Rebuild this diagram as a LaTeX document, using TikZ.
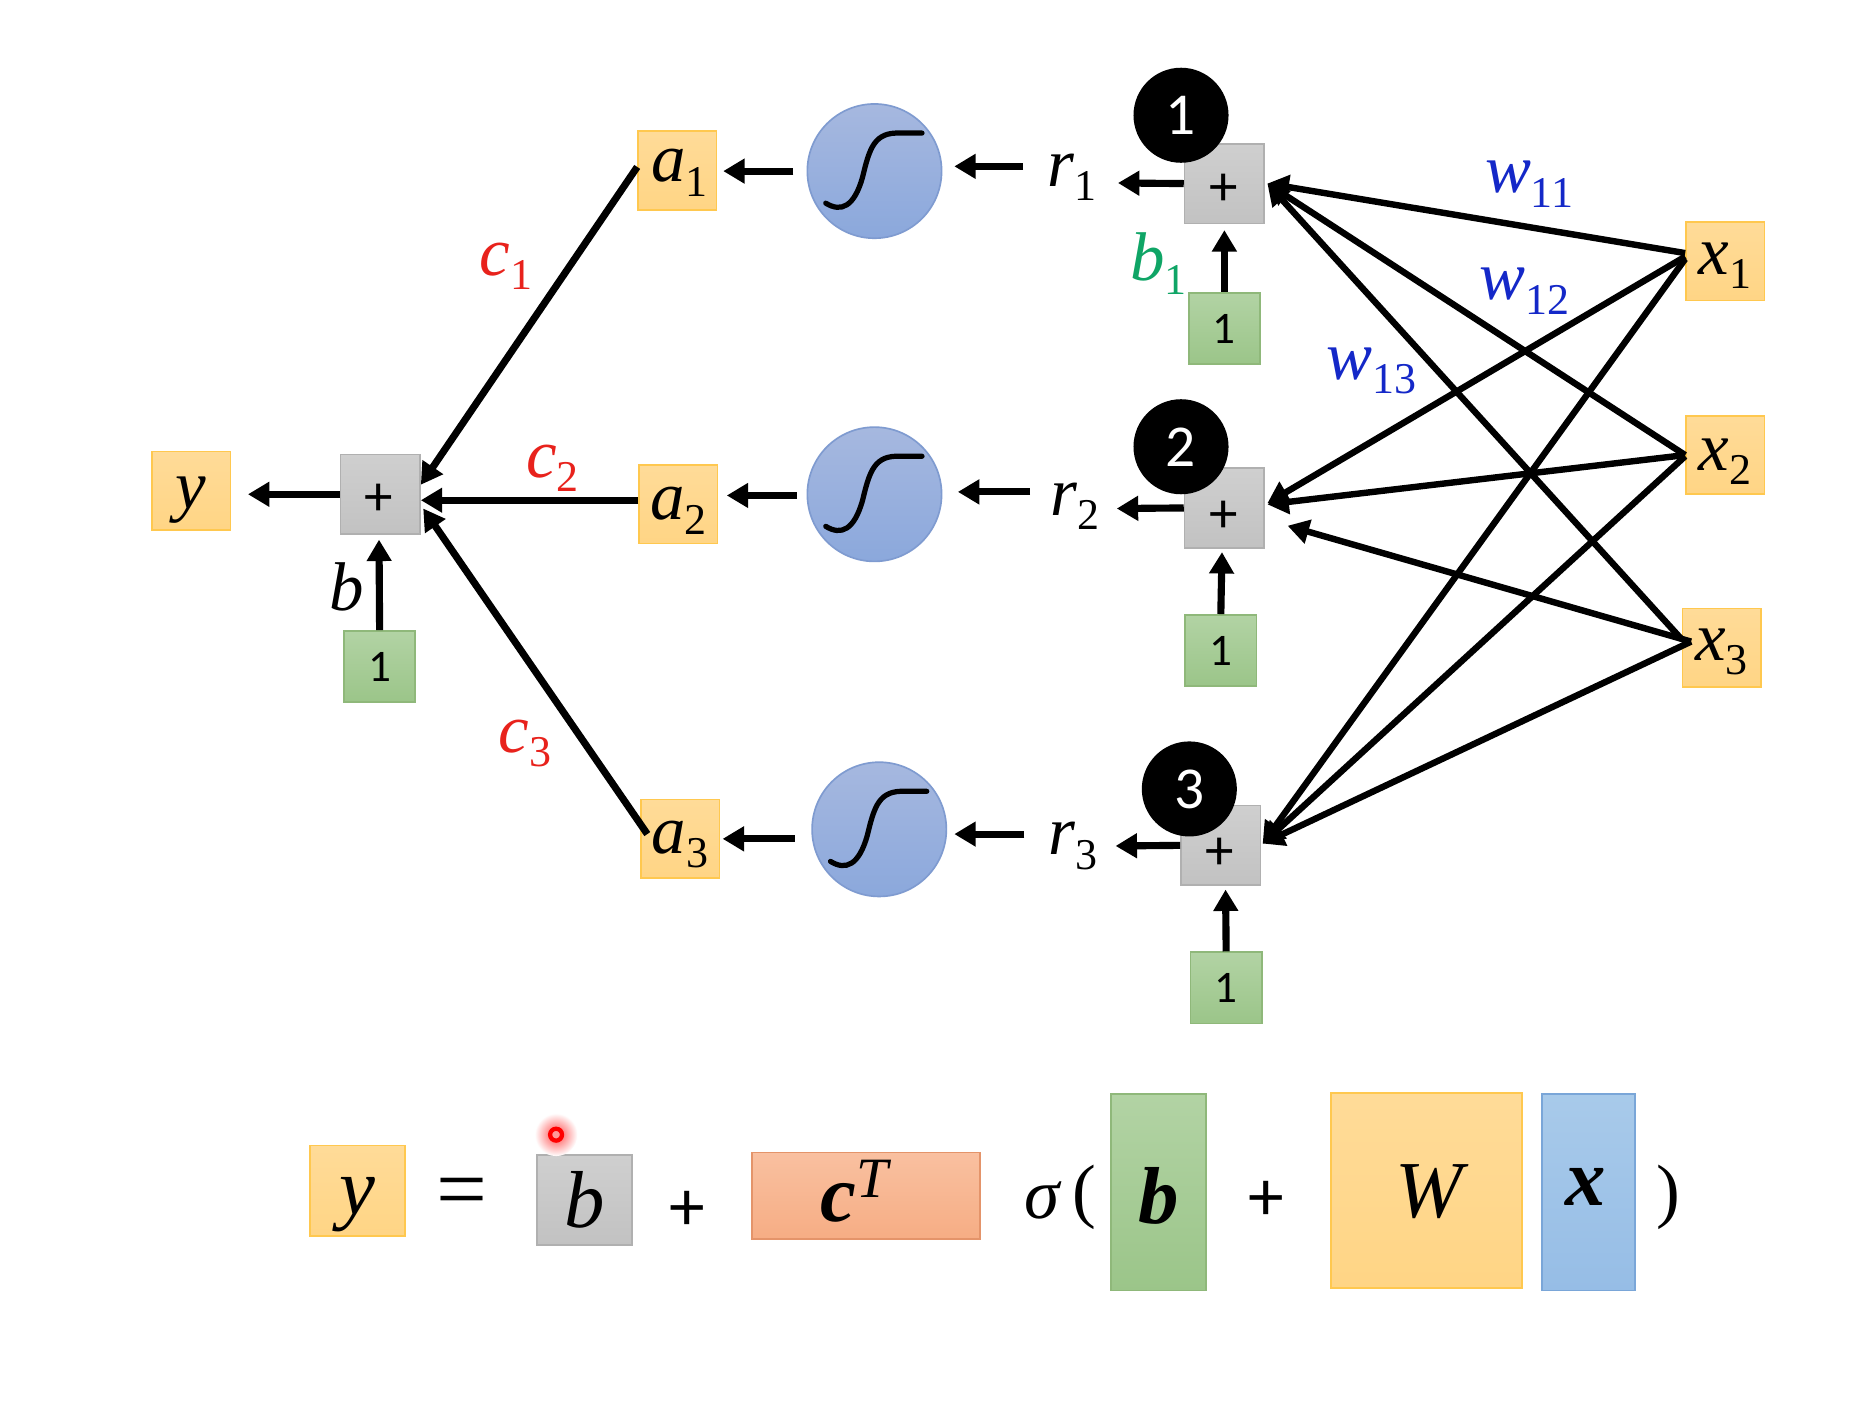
\documentclass[tikz,border=0pt]{standalone}
\usepackage{fontspec}
\setmainfont{Carlito}
\newfontfamily\mfont{Liberation Serif}
\usetikzlibrary{arrows.meta,shadings}
\definecolor{orTop}{HTML}{FFDB98}\definecolor{orBot}{HTML}{FFD585}\definecolor{orEdge}{HTML}{FFC84F}
\definecolor{grTop}{HTML}{CFCFCF}\definecolor{grBot}{HTML}{C2C2C2}\definecolor{grEdge}{HTML}{B0B0B0}
\definecolor{geTop}{HTML}{B2D3A4}\definecolor{geBot}{HTML}{9BC589}\definecolor{geEdge}{HTML}{8FB87A}
\definecolor{saTop}{HTML}{F9C0A0}\definecolor{saBot}{HTML}{F6AD84}\definecolor{saEdge}{HTML}{E4946A}
\definecolor{blTop}{HTML}{A8CAEA}\definecolor{blBot}{HTML}{96BDE6}\definecolor{blEdge}{HTML}{7AA6D8}
\definecolor{ciTop}{HTML}{A6B8DF}\definecolor{ciBot}{HTML}{8BA8DC}\definecolor{ciEdge}{HTML}{7F9BD0}
\definecolor{wBlue}{HTML}{1428C8}\definecolor{cRed}{HTML}{E8221C}\definecolor{bGreen}{HTML}{0FA566}
\newcommand\labsize{\fontsize{29}{32}\selectfont}
\newcommand\eqsize{\fontsize{34}{38}\selectfont}
% italic symbol with an upright lowered index
\newcommand\sym[2]{{\mfont\itshape #1}\raisebox{-6pt}{\mfont\fontsize{18.5}{20}\selectfont #2}}
\newcommand\var[1]{{\mfont\itshape #1}}
\newcommand\bvar[1]{{\mfont\bfseries\itshape #1}}
% sets a label's baseline relative to the centre of its box, without resizing the box
\newcommand\nudge[3]{\hspace*{#1}\smash{\raisebox{#2}{#3}}\hspace*{-#1}}
% S-shaped curve drawn over a sigmoid unit
\newcommand\sigcurve[1]{\draw[sline] ([shift={(-41,27)}]#1.center) .. controls ([shift={(-28,35)}]#1.center) and ([shift={(-17,30)}]#1.center) .. ([shift={(-10,5)}]#1.center) .. controls ([shift={(-4,-20)}]#1.center) and ([shift={(0,-33)}]#1.center) .. ([shift={(22,-32)}]#1.center) -- ([shift={(40,-32)}]#1.center);}
\tikzset{
  x=0.5pt,y=-0.5pt,
  sbox/.style={draw,line width=0.7pt,inner sep=0pt,shading angle=0,align=center},
  obox/.style={sbox,draw=orEdge,top color=orTop,bottom color=orBot,minimum width=33pt,minimum height=33pt,font=\labsize},
  gbox/.style={sbox,draw=grEdge,top color=grTop,bottom color=grBot,minimum width=33.5pt,minimum height=33.5pt,font=\fontsize{24}{26}\selectfont},
  onebox/.style={sbox,draw=geEdge,top color=geTop,bottom color=geBot,minimum width=30pt,minimum height=30pt,font=\fontsize{19}{22}\selectfont},
  unit/.style={circle,draw=ciEdge,line width=0.7pt,top color=ciTop,bottom color=ciBot,minimum size=56.5pt,inner sep=0pt},
  badge/.style={circle,fill=black,text=white,minimum size=40pt,inner sep=0pt,font=\fontsize{25}{28}\selectfont},
  txt/.style={inner sep=0pt,font=\labsize},
  eqtxt/.style={inner sep=0pt,font=\eqsize},
  arr/.style={-{Triangle[length=9pt,width=10pt]},line width=3pt,black},
  wire/.style={-{Triangle[length=9pt,width=10pt]},line width=2.7pt,black},
  sline/.style={line width=2.2pt,line cap=round,black},
}
\begin{document}
\begin{tikzpicture}
\useasboundingbox (0,0) rectangle (1568,1199);
\fill[white] (0,0) rectangle (1568,1199);

% output stage
\node[obox] (y) at (161,413) {\nudge{0pt}{-7.5pt}{\var{y}}};
\node[gbox] (sum) at (320,416) {\nudge{-0.5pt}{-9pt}{+}};
\node[onebox] (bias) at (319.5,561) {1};
\node[txt] (blab) at (292,494) {\var{b}};

% activations
\node[obox] (a1) at (570,143.5) {\nudge{1pt}{-4.75pt}{\sym{a}{1}}};
\node[obox] (a2) at (571,424.5) {\nudge{0pt}{-6.5pt}{\sym{a}{2}}};
\node[obox] (a3) at (572.5,706) {\nudge{0pt}{-6pt}{\sym{a}{3}}};
\node[unit] (s1) at (736,144) {};
\node[unit] (s2) at (736,416) {};
\node[unit] (s3) at (740,698) {};
\sigcurve{s1}\sigcurve{s2}\sigcurve{s3}
\node[txt] (r1) at (902,149) {\sym{r}{1}};
\node[txt] (r2) at (905,426) {\sym{r}{2}};
\node[txt] (r3) at (903,712) {\sym{r}{3}};

% hidden sums with their bias inputs
\node[gbox] (p1) at (1030.5,154.5) {\nudge{-0.5pt}{-9.25pt}{+}};
\node[gbox] (p2) at (1030.5,427.5) {\nudge{-0.5pt}{-10.25pt}{+}};
\node[gbox] (p3) at (1027.5,711.5) {\nudge{-0.5pt}{-10.25pt}{+}};
\node[badge] (n1) at (994,97) {1};
\node[badge] (n2) at (994,376) {2};
\node[badge] (n3) at (1001,664) {3};
\node[onebox] (g1) at (1030.5,276.5) {1};
\node[onebox] (g2) at (1027.5,547.5) {1};
\node[onebox] (g3) at (1032,831.5) {1};
\node[txt,text=bGreen] (b1) at (975,222) {\sym{b}{1}};

% inputs
\node[obox] (x1) at (1452,220) {\nudge{0pt}{-5.5pt}{\sym{x}{1}}};
\node[obox] (x2) at (1452,383) {\nudge{0pt}{-6.5pt}{\sym{x}{2}}};
\node[obox] (x3) at (1449,545) {\nudge{0pt}{-5.5pt}{\sym{x}{3}}};

% edge labels
\node[txt,text=cRed] (c1) at (426,224) {\sym{c}{1}};
\node[txt,text=cRed] (c2) at (465,394) {\sym{c}{2}};
\node[txt,text=cRed] (c3) at (442,626) {\sym{c}{3}};
\node[txt,text=wBlue] (w11) at (1287,155) {\sym{w}{11}};
\node[txt,text=wBlue] (w12) at (1283,245) {\sym{w}{12}};
\node[txt,text=wBlue] (w13) at (1154,312) {\sym{w}{13}};

% connectors of the output stage
\draw[arr] (sum.west) -- ([shift={(14,3)}]y.east);
\draw[arr] (bias.north) -- ([shift={(-1,4)}]sum.south);
\draw[arr] ([shift={(0,-3)}]a1.west) -- ([shift={(0,-8)}]sum.east);
\draw[arr] ([shift={(0,-3.5)}]a2.west) -- ([shift={(0,5)}]sum.east);
\draw[arr] ([shift={(6,-4)}]a3.west) -- ([shift={(2,12)}]sum.east);
\draw[arr] ([shift={(-11,0)}]s1.west) -- ([shift={(5,0.5)}]a1.east);
\draw[arr] ([shift={(-8,1)}]s2.west) -- ([shift={(7,-7.5)}]a2.east);
\draw[arr] ([shift={(-14,8)}]s3.west) -- ([shift={(2,0)}]a3.east);
\draw[arr] ([shift={(-20,-9)}]r1.west) -- ([shift={(10,-4)}]s1.east);
\draw[arr] ([shift={(-17,-12)}]r2.west) -- ([shift={(13,-2)}]s2.east);
\draw[arr] ([shift={(-20,-10)}]r3.west) -- ([shift={(6,4)}]s3.east);

% connectors from the hidden sums to their outputs
\draw[arr] (p1.west) -- ([shift={(18,5)}]r1.east);
\draw[arr] (p2.west) -- ([shift={(14,2)}]r2.east);
\draw[arr] (p3.west) -- ([shift={(15,0)}]r3.east);
\draw[arr] (g1.north) -- ([shift={(0,5)}]p1.south);
\draw[arr] (g2.north) -- ([shift={(-2,3)}]p2.south);
\draw[arr] (g3.north) -- ([shift={(4,3)}]p3.south);

% fully connected weights
\draw[wire] ([shift={(0,-7)}]x1.west) -- ([shift={(2,0)}]p1.east);
\draw[wire] (x2.west) -- ([shift={(2,0)}]p1.east);
\draw[wire] ([shift={(0,-7)}]x3.west) -- ([shift={(2,0)}]p1.east);
\draw[wire] ([shift={(0,-4)}]x1.west) -- ([shift={(2,-4)}]p2.east);
\draw[wire] (x2.west) -- ([shift={(2,-3)}]p2.east);
\draw[wire] ([shift={(8,-5)}]x3.west) -- ([shift={(19,15)}]p2.east);
\draw[wire] ([shift={(0,-2)}]x1.west) -- ([shift={(1,-1.5)}]p3.east);
\draw[wire] ([shift={(0,1)}]x2.west) -- ([shift={(1,-1.5)}]p3.east);
\draw[wire] ([shift={(8,-5)}]x3.west) -- ([shift={(1,-1.5)}]p3.east);

% matrix form of the network
\node[obox,minimum width=40pt,minimum height=38pt,font=\eqsize] (ey) at (301,1002) {\nudge{0pt}{-10pt}{\var{y}}};
\node[eqtxt,font=\fontsize{38}{42}\selectfont\mfont] (eqs) at (389,1009) {=};
\node[gbox,minimum width=40pt,minimum height=38pt,font=\eqsize] (eb) at (492,1010) {\nudge{0pt}{-11.5pt}{\var{b}}};
\node[eqtxt,font=\fontsize{30}{34}\selectfont] (p4) at (578,1019) {+};
\node[sbox,draw=saEdge,top color=saTop,bottom color=saBot,minimum width=96pt,minimum height=36.5pt,font=\eqsize] (ec) at (729,1006.5) {\nudge{-5pt}{-10.75pt}{\bvar{c}\raisebox{10pt}{\fontsize{24}{26}\selectfont\var{T}}}};
\node[eqtxt,font=\fontsize{30}{34}\selectfont] (sg) at (877,1010) {\var{σ}};
\node[eqtxt,font=\fontsize{30}{34}\selectfont\mfont] (lp) at (913,1008) {(};
\node[sbox,draw=geEdge,top color=geTop,bottom color=geBot,minimum width=40pt,minimum height=82.5pt,font=\eqsize] (eb2) at (975,1003.5) {\nudge{0pt}{-13.25pt}{\bvar{b}}};
\node[eqtxt,font=\fontsize{30}{34}\selectfont] (p5) at (1066,1011) {+};
\node[obox,minimum width=80.5pt,minimum height=82pt,font=\eqsize] (eW) at (1200.5,1002) {\nudge{1pt}{-11.5pt}{\var{W}}};
\node[sbox,draw=blEdge,top color=blTop,bottom color=blBot,minimum width=39pt,minimum height=82.5pt,font=\eqsize] (ex) at (1337,1003.5) {\nudge{-1pt}{-5.75pt}{\bvar{x}}};
\node[eqtxt,font=\fontsize{30}{34}\selectfont\mfont] (rp) at (1404,1008) {)};

% laser pointer spot
\shade[inner color=red!70,outer color=white] (468,955) circle (18);
\draw[red,line width=1.8pt,fill=white!60!red] (468,955) circle (5);
\end{tikzpicture}
\end{document}
